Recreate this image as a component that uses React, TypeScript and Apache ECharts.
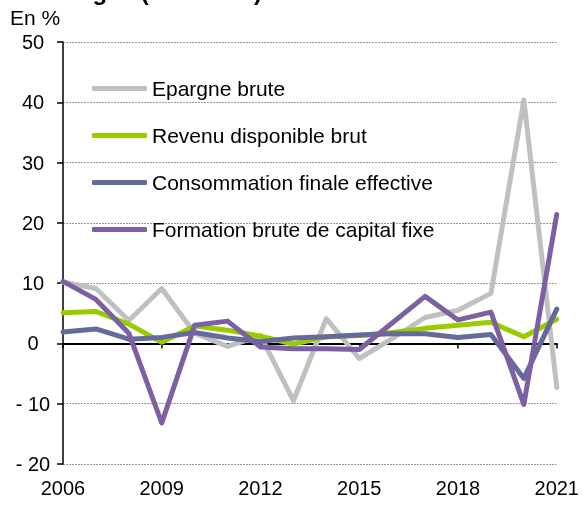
import React, { useEffect, useRef } from "react";
import * as echarts from "echarts";

const years = ["2006","2007","2008","2009","2010","2011","2012","2013","2014","2015","2016","2017","2018","2019","2020","2021"];
const epargneBrute = [10.2, 9.1, 3.8, 9.1, 1.7, -0.5, 1.3, -9.5, 4.1, -2.5, 0.8, 4.3, 5.5, 8.3, 40.4, -7.3];
const revenuDisponible = [5.1, 5.3, 3.2, 0.2, 2.9, 2.2, 1.2, -0.1, 1.1, 1.3, 1.8, 2.5, 3.0, 3.5, 1.1, 4.0];
const consommationFinale = [1.9, 2.4, 0.7, 1.0, 1.8, 0.9, 0.3, 0.9, 1.1, 1.4, 1.6, 1.6, 1.0, 1.5, -5.8, 5.7];
const formationBrute = [10.3, 7.3, 1.7, -13.2, 3.0, 3.7, -0.6, -0.9, -0.9, -1.0, 3.4, 7.8, 3.9, 5.2, -10.1, 21.4];

const seriesNames = ["Epargne brute", "Revenu disponible brut", "Consommation finale effective", "Formation brute de capital fixe"];
const seriesData = [epargneBrute, revenuDisponible, consommationFinale, formationBrute];
const seriesColors = ["#c0c0c0", "#99cc00", "#646a9c", "#7d5fa2"];

const FONT = "Liberation Sans, Arial, sans-serif";

export default function App() {
  const ref = useRef<HTMLDivElement>(null);
  useEffect(() => {
    if (!ref.current) return;
    const chart = echarts.init(ref.current, undefined, { renderer: "svg" });
    chart.setOption({
      animation: false,
      textStyle: { fontFamily: FONT },
      grid: { left: 63, right: 22, top: 42, bottom: 44, containLabel: false },
      graphic: [
        {
          type: "text",
          x: 262,
          y: 3,
          style: {
            text: "ménages (en valeur)",
            font: "bold 24px " + FONT,
            fill: "#000",
            align: "right",
            verticalAlign: "bottom",
          },
        },
        {
          type: "text",
          x: 10,
          y: 17.5,
          style: {
            text: "En %",
            font: "21px " + FONT,
            fill: "#000",
            align: "left",
            verticalAlign: "middle",
          },
        },
      ],
      legend: {
        orient: "vertical",
        left: 87,
        top: 73,
        itemWidth: 55,
        itemHeight: 5,
        itemGap: 26,
        data: seriesNames.map((name) => ({ name, icon: "roundRect" })),
        textStyle: { fontFamily: FONT, fontSize: 21, color: "#000", lineHeight: 21 },
      },
      xAxis: [
        {
          type: "category",
          data: years,
          boundaryGap: false,
          position: "bottom",
          axisLine: { show: false, onZero: false },
          axisTick: { show: false },
          axisLabel: { interval: 2, fontSize: 20, color: "#000", margin: 14, fontFamily: FONT },
          splitLine: { show: false },
        },
        {
          type: "category",
          data: years,
          boundaryGap: false,
          position: "bottom",
          axisLine: { show: true, onZero: true, lineStyle: { color: "#000", width: 2 } },
          axisTick: { show: true, interval: 2, length: 5, lineStyle: { color: "#000", width: 1.5 } },
          axisLabel: { show: false },
          splitLine: { show: false },
        },
      ],
      yAxis: {
        type: "value",
        min: -20,
        max: 50,
        interval: 10,
        axisLine: { show: true, lineStyle: { color: "#000", width: 1.5 } },
        axisTick: { show: true, length: 6, lineStyle: { color: "#000", width: 1.5 } },
        axisLabel: {
          fontSize: 20,
          color: "#000",
          align: "center",
          margin: 30,
          fontFamily: FONT,
          formatter: (v: number) => (v < 0 ? "- " + Math.abs(v) : String(v)),
        },
        splitLine: { show: true, lineStyle: { color: "#999", width: 1, type: [2, 1] } },
      },
      series: seriesNames.map((name, i) => ({
        name,
        type: "line",
        xAxisIndex: 0,
        data: seriesData[i],
        symbol: "none",
        showSymbol: false,
        color: seriesColors[i],
        itemStyle: { color: seriesColors[i] },
        lineStyle: { color: seriesColors[i], width: 5, cap: "round", join: "round" },
        z: 3 + i,
      })),
    });
    return () => chart.dispose();
  }, []);
  return <div ref={ref} style={{ position: "fixed", left: 0, top: 0, width: 582, height: 508 }} />;
}
